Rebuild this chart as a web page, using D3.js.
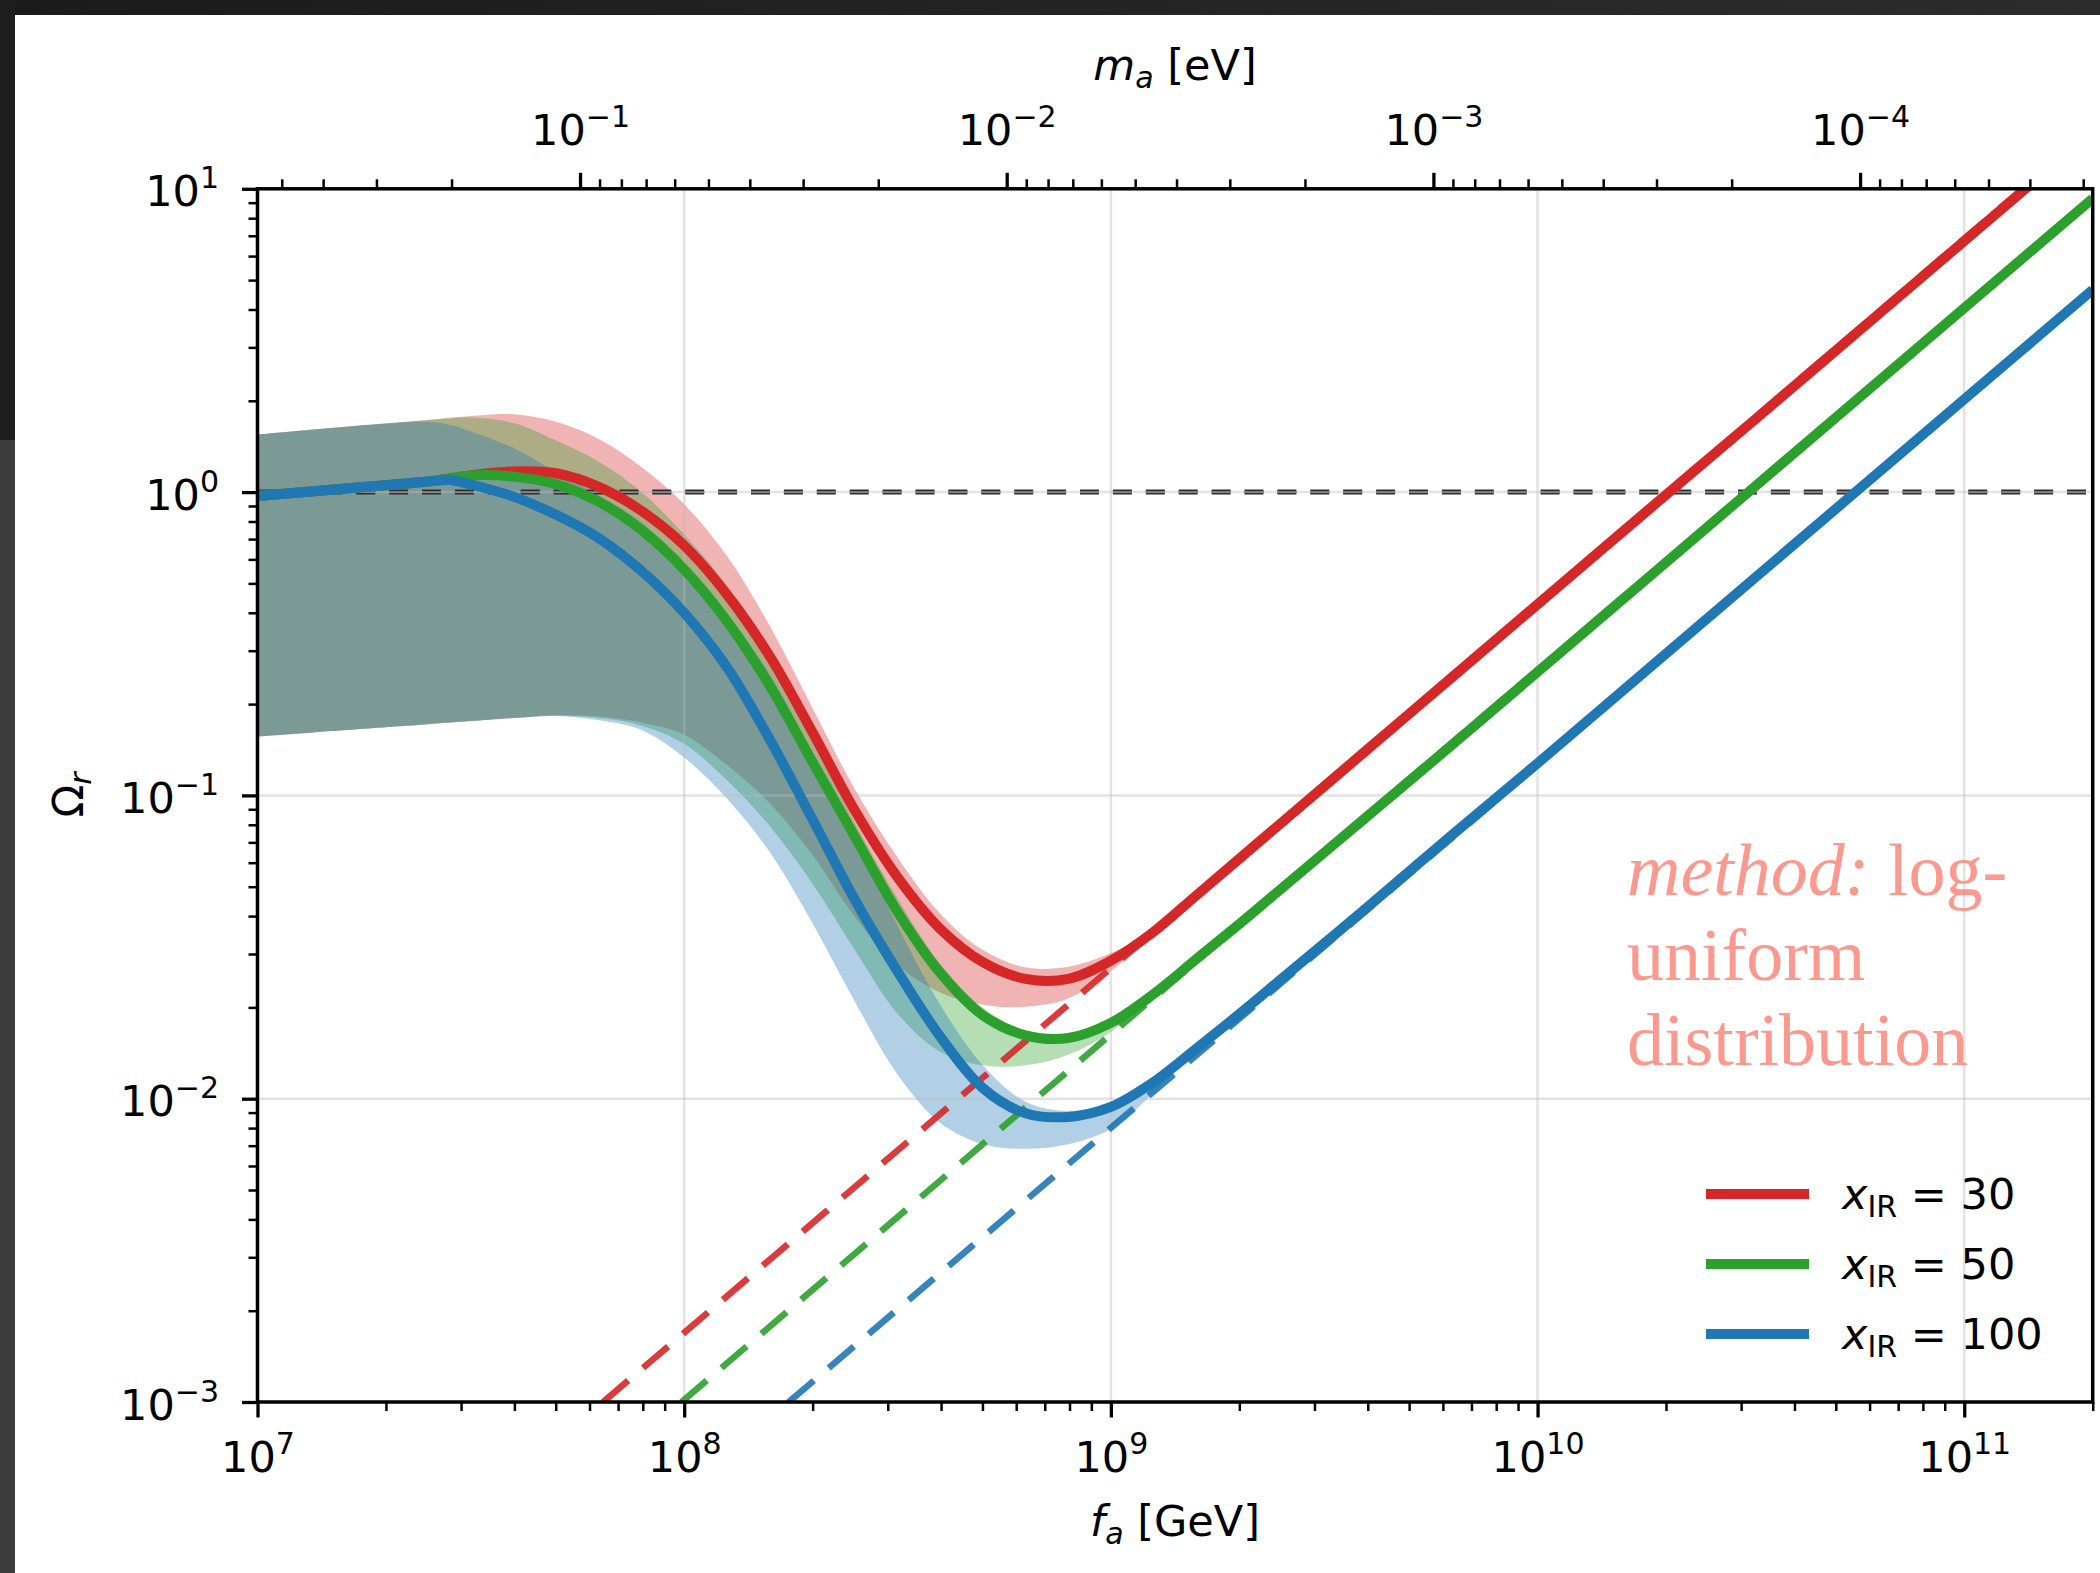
<!DOCTYPE html>
<html>
<head>
<meta charset="utf-8">
<title>Relic abundance of radiated axions</title>
<script src="https://cdn.jsdelivr.net/npm/d3@7/dist/d3.min.js"></script>
<style>
  html, body { margin: 0; padding: 0; background: #ffffff; }
  svg { display: block; }
</style>
</head>
<body>
<svg id="chart" width="2100" height="1573"></svg>
<script>
// ---------------- data ----------------
const xIR = [30, 50, 100];
const seriesColors = ["#d62728", "#2ca02c", "#1f77b4"];

// central curves: log10 f_a [GeV] -> log10 Omega_r
const logFa = [7.0, 7.2, 7.4, 7.45, 7.5, 7.6, 7.7, 7.8, 7.9, 8.0, 8.1, 8.2, 8.3, 8.4, 8.5, 8.6,
               8.7, 8.8, 8.9, 9.0, 9.1, 9.2, 9.3, 9.4, 9.6, 9.8, 10.0, 10.25, 10.5, 10.75, 11.0, 11.301];
const logOmega30 = [-0.013, 0.011, 0.035, 0.045, 0.055, 0.068, 0.062, 0.017, -0.062, -0.176, -0.337, -0.54,
                    -0.79, -1.05, -1.27, -1.44, -1.55, -1.605, -1.605, -1.545, -1.45, -1.33, -1.21, -1.09,
                    -0.85, -0.61, -0.37, -0.07, 0.228, 0.528, 0.828, 1.189];
const logOmega50 = [-0.013, 0.011, 0.035, 0.045, 0.055, 0.051, 0.026, -0.032, -0.125, -0.255, -0.425, -0.637,
                    -0.888, -1.136, -1.384, -1.585, -1.725, -1.791, -1.80, -1.75, -1.655, -1.54, -1.425, -1.307,
                    -1.07, -0.833, -0.593, -0.293, 0.007, 0.307, 0.607, 0.968];
const logOmega100 = [-0.013, 0.011, 0.035, 0.040, 0.025, -0.015, -0.075, -0.152, -0.26, -0.398, -0.577, -0.814,
                     -1.077, -1.344, -1.58, -1.795, -1.965, -2.048, -2.06, -2.027, -1.945, -1.835, -1.722, -1.605,
                     -1.37, -1.13, -0.894, -0.594, -0.294, 0.006, 0.306, 0.667];

// uncertainty bands: log10 of lower / upper edge
const logFaBand = [7.0, 7.2, 7.4, 7.45, 7.5, 7.6, 7.7, 7.8, 7.9, 8.0, 8.1, 8.2, 8.3, 8.4, 8.5, 8.6,
                   8.7, 8.8, 8.9, 9.0, 9.1, 9.2];
const bandLow30 = [-0.806, -0.785, -0.765, -0.76, -0.755, -0.745, -0.735, -0.74, -0.76, -0.80, -0.90, -1.025,
                   -1.195, -1.40, -1.56, -1.65, -1.69, -1.697, -1.67, -1.58, -1.45, -1.33];
const bandHigh30 = [0.19, 0.215, 0.238, 0.245, 0.251, 0.257, 0.232, 0.175, 0.083, -0.04, -0.21, -0.44,
                    -0.71, -0.98, -1.205, -1.39, -1.51, -1.567, -1.565, -1.52, -1.445, -1.33];
const bandLow50 = [-0.806, -0.785, -0.765, -0.76, -0.755, -0.745, -0.737, -0.745, -0.77, -0.83, -0.95, -1.10,
                   -1.29, -1.51, -1.72, -1.845, -1.89, -1.89, -1.855, -1.78, -1.66, -1.54];
const bandHigh50 = [0.19, 0.215, 0.238, 0.243, 0.246, 0.228, 0.17, 0.10, 0.0, -0.14, -0.31, -0.545,
                    -0.81, -1.09, -1.34, -1.555, -1.70, -1.775, -1.785, -1.735, -1.65, -1.54];
const bandLow100 = [-0.806, -0.785, -0.765, -0.76, -0.755, -0.745, -0.738, -0.752, -0.784, -0.875, -1.01, -1.186,
                    -1.42, -1.68, -1.92, -2.08, -2.15, -2.165, -2.15, -2.10, -1.98, -1.835];
const bandHigh100 = [0.19, 0.215, 0.232, 0.222, 0.20, 0.145, 0.065, -0.01, -0.10, -0.235, -0.40, -0.60,
                     -0.86, -1.13, -1.43, -1.69, -1.89, -2.01, -2.04, -2.015, -1.94, -1.835];

// power-law asymptotes (dashed)
const asymLogFa30 = [7.81, 9.474, 11.137];
const asymLogOmega30 = [-3, -1, 1];
const asymLogFa50 = [7.994, 9.654, 11.301];
const asymLogOmega50 = [-3, -1, 0.968];
const asymLogFa100 = [8.245, 9.916, 11.301];
const asymLogOmega100 = [-3, -1, 0.667];

// axes
const faDomain = [1e7, 2e11];
const omegaDomain = [1e-3, 1e1];
const faMajorTicks = [1e7, 1e8, 1e9, 1e10, 1e11];
const omegaMajorTicks = [1e-3, 1e-2, 1e-1, 1e0, 1e1];
const maMajorTicks = [1e-1, 1e-2, 1e-3, 1e-4];
const maFaProduct = 5.7e6;   // m_a [eV] * f_a [GeV]
const referenceOmega = 1;
const annotationLines = ["uniform", "distribution"];

// ---------------- layout ----------------
const plot = { left: 257.5, right: 2092.7, top: 188.8, bottom: 1402 };
const FS = 43, FS_SUP = 30;
const SANS = "'DejaVu Sans', sans-serif";
const SERIF = "'Liberation Serif', 'Times New Roman', serif";

const x = d3.scaleLog().domain(faDomain).range([plot.left, plot.right]);
const y = d3.scaleLog().domain(omegaDomain).range([plot.bottom, plot.top]);
const xm = d3.scaleLog().domain([maFaProduct / faDomain[0], maFaProduct / faDomain[1]])
  .range([plot.left, plot.right]);

const svg = d3.select("#chart");
const defs = svg.append("defs");

// page background with the dark surround
svg.append("rect").attr("width", 2100).attr("height", 1573).attr("fill", "#ffffff");
const grad = defs.append("linearGradient").attr("id", "topband");
grad.append("stop").attr("offset", "0%").attr("stop-color", "#1b1b1b");
grad.append("stop").attr("offset", "100%").attr("stop-color", "#2c2c2c");
svg.append("rect").attr("x", 0).attr("y", 0).attr("width", 2100).attr("height", 15).attr("fill", "url(#topband)");
svg.append("rect").attr("x", 0).attr("y", 0).attr("width", 15).attr("height", 440).attr("fill", "#1e1e1e");
svg.append("rect").attr("x", 0).attr("y", 440).attr("width", 15).attr("height", 1133).attr("fill", "#3c3c3c");

defs.append("clipPath").attr("id", "plotclip").append("rect")
  .attr("x", plot.left).attr("y", plot.top)
  .attr("width", plot.right - plot.left).attr("height", plot.bottom - plot.top);

const gPlot = svg.append("g").attr("clip-path", "url(#plotclip)");
const curve = d3.curveCatmullRom.alpha(0.5);

// ---------------- bands ----------------
const bandLows = [bandLow30, bandLow50, bandLow100];
const bandHighs = [bandHigh30, bandHigh50, bandHigh100];
const area = d3.area()
  .x(d => x(Math.pow(10, d[0])))
  .y0(d => y(Math.pow(10, d[1])))
  .y1(d => y(Math.pow(10, d[2])))
  .curve(curve);
bandLows.forEach((low, i) => {
  const pts = logFaBand.map((lf, j) => [lf, low[j], bandHighs[i][j]]);
  gPlot.append("path").attr("d", area(pts))
    .attr("fill", seriesColors[i]).attr("fill-opacity", 0.35).attr("stroke", "none");
});

// ---------------- grid ----------------
const gGrid = gPlot.append("g").attr("stroke", "#b8b8b8").attr("stroke-opacity", 0.4).attr("stroke-width", 2.5);
faMajorTicks.forEach(v => {
  gGrid.append("line").attr("x1", x(v)).attr("x2", x(v)).attr("y1", plot.top).attr("y2", plot.bottom);
});
omegaMajorTicks.forEach(v => {
  gGrid.append("line").attr("x1", plot.left).attr("x2", plot.right).attr("y1", y(v)).attr("y2", y(v));
});

// ---------------- Omega = 1 reference ----------------
gPlot.append("line")
  .attr("x1", plot.left).attr("x2", plot.right).attr("y1", y(referenceOmega)).attr("y2", y(referenceOmega))
  .attr("stroke", "#2e2e2e").attr("stroke-width", 5).attr("stroke-dasharray", "19 13.9");
gPlot.append("line")
  .attr("x1", plot.left).attr("x2", plot.right).attr("y1", y(referenceOmega)).attr("y2", y(referenceOmega))
  .attr("stroke", "#8c8c8c").attr("stroke-width", 1.6).attr("stroke-dasharray", "19 13.9");

// ---------------- asymptotes ----------------
const asymFa = [asymLogFa30, asymLogFa50, asymLogFa100];
const asymOm = [asymLogOmega30, asymLogOmega50, asymLogOmega100];
const straight = d3.line()
  .x(d => x(Math.pow(10, d[0])))
  .y(d => y(Math.pow(10, d[1])));
asymFa.forEach((fa, i) => {
  const pts = fa.map((lf, j) => [lf, asymOm[i][j]]);
  gPlot.append("path").attr("d", straight(pts))
    .attr("fill", "none").attr("stroke", seriesColors[i]).attr("stroke-opacity", 0.9)
    .attr("stroke-width", 6.5).attr("stroke-dasharray", "33 19.5");
});

// ---------------- central curves ----------------
const centrals = [logOmega30, logOmega50, logOmega100];
const smooth = d3.line()
  .x(d => x(Math.pow(10, d[0])))
  .y(d => y(Math.pow(10, d[1])))
  .curve(curve);
centrals.forEach((vals, i) => {
  const pts = logFa.map((lf, j) => [lf, vals[j]]);
  gPlot.append("path").attr("d", smooth(pts))
    .attr("fill", "none").attr("stroke", seriesColors[i])
    .attr("stroke-width", 10).attr("stroke-linejoin", "round");
});

// ---------------- annotation ----------------
const ann1 = svg.append("text").attr("x", 1627).attr("y", 895)
  .style("font-family", SERIF).style("font-size", "74px")
  .style("fill", "#fa8072").style("fill-opacity", 0.8).style("white-space", "pre");
ann1.append("tspan").style("font-style", "italic").text("method:");
ann1.append("tspan").text(" log-");
annotationLines.forEach((line, i) => {
  svg.append("text").attr("x", 1627).attr("y", 980 + 85 * i)
    .style("font-family", SERIF).style("font-size", "74px")
    .style("fill", "#fa8072").style("fill-opacity", 0.8).text(line);
});

// ---------------- frame ----------------
svg.append("rect")
  .attr("x", plot.left).attr("y", plot.top)
  .attr("width", plot.right - plot.left).attr("height", plot.bottom - plot.top)
  .attr("fill", "none").attr("stroke", "#000").attr("stroke-width", 3.5);

// ---------------- axes ----------------
function minorTicks(nFrom, nTo, lo, hi) {
  const out = [];
  for (let n = nFrom; n <= nTo; n++) {
    for (let k = 2; k <= 9; k++) {
      const v = k * Math.pow(10, n);
      if (v >= lo * 0.9999 && v <= hi * 1.0001) out.push(v);
    }
  }
  return out;
}

function styleAxis(g) {
  g.select(".domain").remove();
  g.attr("font-family", SANS).attr("font-size", FS);
  g.selectAll(".tick line").attr("stroke", "#000");
}

function powerLabel(textSel, anchor, xPos, yPos) {
  textSel.each(function (d) {
    const t = d3.select(this);
    const e = Math.round(Math.log10(d));
    t.text(null).attr("text-anchor", anchor).attr("x", xPos).attr("y", yPos).attr("dy", 0)
      .attr("fill", "#000");
    t.append("tspan").text("10");
    t.append("tspan").attr("dy", -18).attr("font-size", FS_SUP)
      .text(e < 0 ? "\u2212" + (-e) : String(e));
  });
}

// bottom (f_a)
const gxMinor = svg.append("g").attr("transform", `translate(0,${plot.bottom})`);
gxMinor.call(d3.axisBottom(x).tickValues(minorTicks(7, 11, faDomain[0], faDomain[1]))
  .tickSize(9).tickSizeOuter(0).tickFormat(""));
styleAxis(gxMinor);
gxMinor.selectAll(".tick line").attr("stroke-width", 2.5);
gxMinor.selectAll(".tick text").remove();

const gx = svg.append("g").attr("transform", `translate(0,${plot.bottom})`);
gx.call(d3.axisBottom(x).tickValues(faMajorTicks).tickSize(15.5).tickSizeOuter(0));
styleAxis(gx);
gx.selectAll(".tick line").attr("stroke-width", 3.3);
powerLabel(gx.selectAll(".tick text"), "middle", 0, 69.7);

// left (Omega_r)
const gyMinor = svg.append("g").attr("transform", `translate(${plot.left},0)`);
gyMinor.call(d3.axisLeft(y).tickValues(minorTicks(-3, 0, omegaDomain[0], omegaDomain[1]))
  .tickSize(9).tickSizeOuter(0).tickFormat(""));
styleAxis(gyMinor);
gyMinor.selectAll(".tick line").attr("stroke-width", 2.5);
gyMinor.selectAll(".tick text").remove();

const gy = svg.append("g").attr("transform", `translate(${plot.left},0)`);
gy.call(d3.axisLeft(y).tickValues(omegaMajorTicks).tickSize(15.5).tickSizeOuter(0));
styleAxis(gy);
gy.selectAll(".tick line").attr("stroke-width", 3.3);
powerLabel(gy.selectAll(".tick text"), "end", -38.5, 17);

// top (m_a)
const maLo = maFaProduct / faDomain[1], maHi = maFaProduct / faDomain[0];
const gtMinor = svg.append("g").attr("transform", `translate(0,${plot.top})`);
gtMinor.call(d3.axisTop(xm).tickValues(minorTicks(-5, -1, maLo, maHi))
  .tickSize(9.5).tickSizeOuter(0).tickFormat(""));
styleAxis(gtMinor);
gtMinor.selectAll(".tick line").attr("stroke-width", 2.5);
gtMinor.selectAll(".tick text").remove();

const gt = svg.append("g").attr("transform", `translate(0,${plot.top})`);
gt.call(d3.axisTop(xm).tickValues(maMajorTicks).tickSize(16).tickSizeOuter(0));
styleAxis(gt);
gt.selectAll(".tick line").attr("stroke-width", 3.3);
powerLabel(gt.selectAll(".tick text"), "middle", 0, -43.8);

// axis titles
function titleText(xPos, yPos, transform) {
  const t = svg.append("text").attr("font-family", SANS).attr("font-size", FS)
    .attr("text-anchor", "middle").attr("fill", "#000").style("white-space", "pre");
  if (transform) t.attr("transform", transform); else t.attr("x", xPos).attr("y", yPos);
  return t;
}
const xTitle = titleText(1175, 1536);
xTitle.append("tspan").attr("font-style", "italic").text("f");
xTitle.append("tspan").attr("font-style", "italic").attr("font-size", FS_SUP).attr("dy", 8).text("a");
xTitle.append("tspan").attr("dy", -8).text(" [GeV]");

const topTitle = titleText(1175, 80);
topTitle.append("tspan").attr("font-style", "italic").text("m");
topTitle.append("tspan").attr("font-style", "italic").attr("font-size", FS_SUP).attr("dy", 8).text("a");
topTitle.append("tspan").attr("dy", -8).text(" [eV]");

const yTitle = titleText(0, 0, "translate(83,795) rotate(-90)");
yTitle.append("tspan").text("\u03A9");
yTitle.append("tspan").attr("font-style", "italic").attr("font-size", FS_SUP).attr("dy", 8).text("r");

// ---------------- legend ----------------
const legendY0 = 1194, legendStep = 70;
xIR.forEach((v, i) => {
  const ly = legendY0 + legendStep * i;
  svg.append("line").attr("x1", 1706).attr("x2", 1809).attr("y1", ly).attr("y2", ly)
    .attr("stroke", seriesColors[i]).attr("stroke-width", 10);
  const t = svg.append("text").attr("x", 1842).attr("y", ly + 15.3)
    .attr("font-family", SANS).attr("font-size", FS).attr("fill", "#000").style("white-space", "pre");
  t.append("tspan").attr("font-style", "italic").text("x");
  t.append("tspan").attr("font-size", FS_SUP).attr("dy", 7.5).text("IR");
  t.append("tspan").attr("dy", -7.5).text(" = " + v);
});
</script>
</body>
</html>
